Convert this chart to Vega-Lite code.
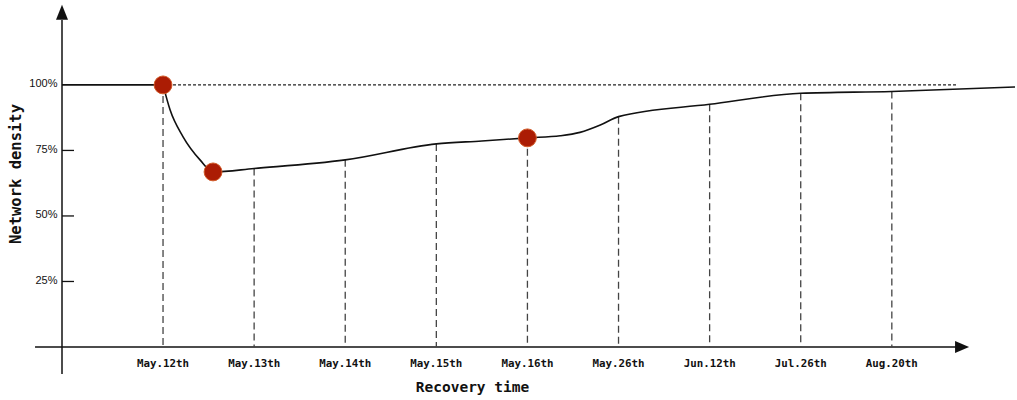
{
  "$schema": "https://vega.github.io/schema/vega-lite/v6.json",
  "width": 955,
  "height": 347,
  "autosize": {"type": "none"},
  "padding": {"left": 62, "top": 0, "right": 0, "bottom": 53},
  "background": "white",
  "config": {"view": {"stroke": null}},
  "resolve": {"axis": {"x": "independent", "y": "independent"}},
  "datasets": {
    "one": [{}],
    "categories": [
      {"t": 1, "label": "May.12th", "density": 100},
      {"t": 2, "label": "May.13th", "density": 68.1},
      {"t": 3, "label": "May.14th", "density": 71.4},
      {"t": 4, "label": "May.15th", "density": 77.5},
      {"t": 5, "label": "May.16th", "density": 79.8},
      {"t": 6, "label": "May.26th", "density": 87.9},
      {"t": 7, "label": "Jun.12th", "density": 92.6},
      {"t": 8, "label": "Jul.26th", "density": 96.8},
      {"t": 9, "label": "Aug.20th", "density": 97.5}
    ],
    "curve": [
      {"seg": "before", "t": -0.109, "density": 100},
      {"seg": "before", "t": 1, "density": 100},
      {"seg": "after", "t": 1, "density": 100},
      {"seg": "after", "t": 1.077, "density": 90.5},
      {"seg": "after", "t": 1.22, "density": 80.2},
      {"seg": "after", "t": 1.406, "density": 71.4},
      {"seg": "after", "t": 1.549, "density": 66.8},
      {"seg": "after", "t": 2, "density": 68.1},
      {"seg": "after", "t": 3, "density": 71.4},
      {"seg": "after", "t": 4, "density": 77.5},
      {"seg": "after", "t": 4.5, "density": 78.6},
      {"seg": "after", "t": 5, "density": 79.8},
      {"seg": "after", "t": 5.36, "density": 80.6},
      {"seg": "after", "t": 5.577, "density": 81.9},
      {"seg": "after", "t": 5.8, "density": 84.7},
      {"seg": "after", "t": 6, "density": 87.9},
      {"seg": "after", "t": 7, "density": 92.6},
      {"seg": "after", "t": 8, "density": 96.8},
      {"seg": "after", "t": 9, "density": 97.5},
      {"seg": "after", "t": 10.352, "density": 99.2}
    ],
    "markers": [
      {"t": 1, "density": 100},
      {"t": 1.549, "density": 66.8},
      {"t": 5, "density": 79.8}
    ],
    "yticks": [
      {"density": 25},
      {"density": 50},
      {"density": 75}
    ]
  },
  "layer": [
    {
      "data": {"name": "one"},
      "mark": {"type": "rule", "color": "#111111", "strokeWidth": 1.5},
      "encoding": {
        "x": {"datum": -0.109, "type": "quantitative", "scale": {"domain": [-0.109, 10.374], "nice": false, "zero": false}, "axis": null},
        "y": {"datum": -10.3, "type": "quantitative", "scale": {"domain": [0, 132.4], "nice": false, "zero": false}, "axis": null},
        "y2": {"datum": 124.8}
      }
    },
    {
      "data": {"name": "one"},
      "mark": {"type": "rule", "color": "#111111", "strokeWidth": 1.5},
      "encoding": {
        "x": {"datum": -0.405, "type": "quantitative", "scale": {"domain": [-0.109, 10.374], "nice": false, "zero": false}, "axis": null},
        "x2": {"datum": 9.705},
        "y": {"datum": 0, "type": "quantitative", "scale": {"domain": [0, 132.4], "nice": false, "zero": false}, "axis": null}
      }
    },
    {
      "data": {"name": "one"},
      "mark": {"type": "point", "filled": true, "color": "#111111", "opacity": 1, "shape": "M0,-1L0.8,1L-0.8,1Z", "size": 225},
      "encoding": {
        "x": {"datum": -0.109, "type": "quantitative", "scale": {"domain": [-0.109, 10.374], "nice": false, "zero": false}, "axis": null},
        "y": {"datum": 127.7, "type": "quantitative", "scale": {"domain": [0, 132.4], "nice": false, "zero": false}, "axis": null}
      }
    },
    {
      "data": {"name": "one"},
      "mark": {"type": "point", "filled": true, "color": "#111111", "opacity": 1, "shape": "M1,0L-1,0.857L-1,-0.857Z", "size": 196},
      "encoding": {
        "x": {"datum": 9.771, "type": "quantitative", "scale": {"domain": [-0.109, 10.374], "nice": false, "zero": false}, "axis": null},
        "y": {"datum": 0, "type": "quantitative", "scale": {"domain": [0, 132.4], "nice": false, "zero": false}, "axis": null}
      }
    },
    {
      "data": {"name": "yticks"},
      "mark": {"type": "rule", "color": "#111111", "strokeWidth": 1.3},
      "encoding": {
        "x": {"datum": -0.109, "type": "quantitative", "scale": {"domain": [-0.109, 10.374], "nice": false, "zero": false}, "axis": null},
        "x2": {"datum": 0.023},
        "y": {"field": "density", "type": "quantitative", "scale": {"domain": [0, 132.4], "nice": false, "zero": false}, "axis": null}
      }
    },
    {
      "data": {"name": "one"},
      "mark": {"type": "rule", "color": "#222222", "strokeWidth": 1.1, "strokeDash": [3, 2]},
      "encoding": {
        "x": {"datum": 1, "type": "quantitative", "scale": {"domain": [-0.109, 10.374], "nice": false, "zero": false}, "axis": null},
        "x2": {"datum": 9.727},
        "y": {"datum": 100, "type": "quantitative", "scale": {"domain": [0, 132.4], "nice": false, "zero": false}, "axis": null}
      }
    },
    {
      "data": {"name": "categories"},
      "mark": {"type": "rule", "color": "#444444", "strokeWidth": 1.3, "strokeDash": [7, 4]},
      "encoding": {
        "x": {"field": "t", "type": "quantitative", "scale": {"domain": [-0.109, 10.374], "nice": false, "zero": false}, "axis": null},
        "y": {"field": "density", "type": "quantitative", "scale": {"domain": [0, 132.4], "nice": false, "zero": false}, "axis": null},
        "y2": {"datum": 0}
      }
    },
    {
      "data": {"name": "curve"},
      "mark": {"type": "line", "color": "#111111", "strokeWidth": 1.6, "interpolate": "monotone"},
      "encoding": {
        "x": {"field": "t", "type": "quantitative", "scale": {"domain": [-0.109, 10.374], "nice": false, "zero": false},
          "axis": {"orient": "bottom", "labels": false, "ticks": false, "domain": false, "grid": false, "title": "Recovery time", "titleX": 410, "titleY": 40, "titleBaseline": "middle", "titleAlign": "center", "titleFont": "DejaVu Sans Mono", "titleFontSize": 14.5, "titleFontWeight": "bold", "titleColor": "#111111"}},
        "y": {"field": "density", "type": "quantitative", "scale": {"domain": [0, 132.4], "nice": false, "zero": false},
          "axis": {"orient": "left", "values": [25, 50, 75, 100], "labelExpr": "datum.value + '%'", "domain": false, "ticks": false, "grid": false, "labelPadding": 5, "labelFont": "Liberation Sans", "labelFontSize": 11, "labelColor": "#111111", "labelOffset": -1, "title": "Network density", "titleX": -47, "titleY": 173.5, "titleAngle": -90, "titleBaseline": "middle", "titleAlign": "center", "titleFont": "DejaVu Sans Mono", "titleFontSize": 15.5, "titleFontWeight": "bold", "titleColor": "#111111"}},
        "detail": {"field": "seg", "type": "nominal"}
      }
    },
    {
      "data": {"name": "markers"},
      "mark": {"type": "point", "filled": true, "color": "#ab1c04", "opacity": 1, "size": 320, "stroke": "#d25a28", "strokeWidth": 1},
      "encoding": {
        "x": {"field": "t", "type": "quantitative", "scale": {"domain": [-0.109, 10.374], "nice": false, "zero": false}, "axis": null},
        "y": {"field": "density", "type": "quantitative", "scale": {"domain": [0, 132.4], "nice": false, "zero": false}, "axis": null}
      }
    },
    {
      "data": {"name": "categories"},
      "mark": {"type": "text", "font": "DejaVu Sans Mono", "fontSize": 10.8, "fontWeight": "bold", "color": "#111111", "baseline": "middle", "align": "center", "dy": 17},
      "encoding": {
        "x": {"field": "t", "type": "quantitative", "scale": {"domain": [-0.109, 10.374], "nice": false, "zero": false}, "axis": null},
        "y": {"datum": 0, "type": "quantitative", "scale": {"domain": [0, 132.4], "nice": false, "zero": false}, "axis": null},
        "text": {"field": "label", "type": "nominal"}
      }
    }
  ]
}
